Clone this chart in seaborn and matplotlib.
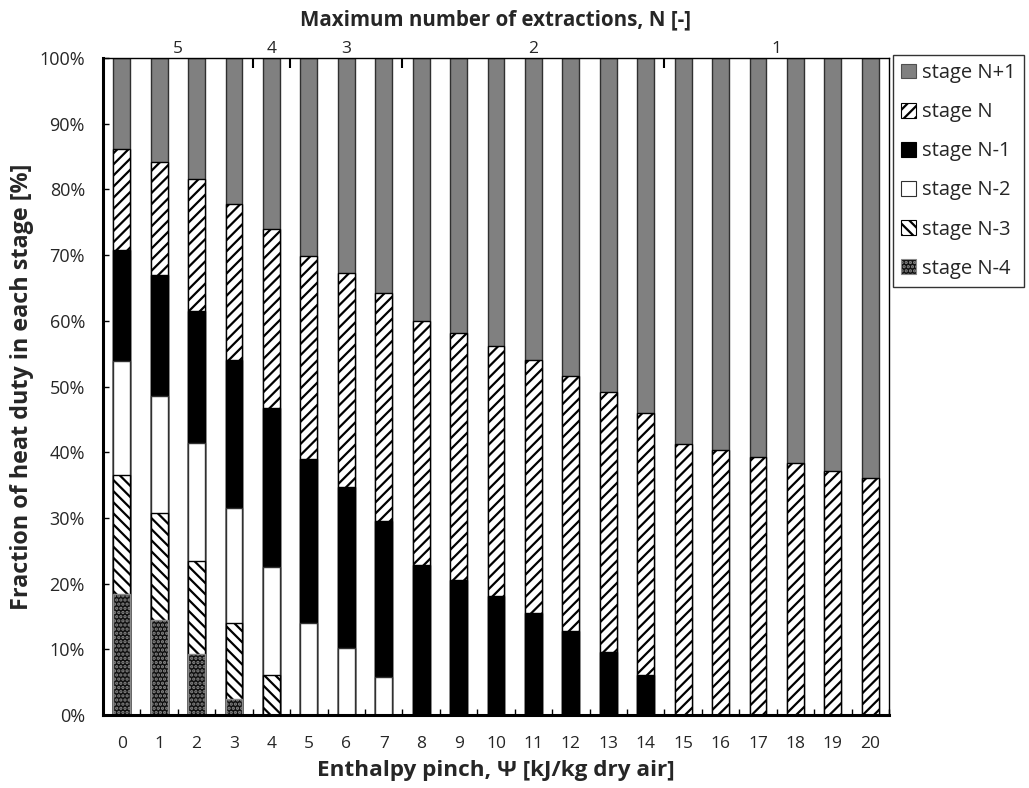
import numpy as np
import pandas as pd
import matplotlib
matplotlib.use("Agg")
import matplotlib.pyplot as plt
from matplotlib.patches import Patch
import seaborn as sns

# data (share of heat duty per stage, %)
psi = list(range(21))
stage_n4 = [18.4, 14.4, 9.3, 2.5] + [0.0] * 17
stage_n3 = [18.1, 16.3, 14.1, 11.5, 6.1] + [0.0] * 16
stage_n2 = [17.4, 17.8, 18.0, 17.5, 16.5, 14.0, 10.2, 5.8] + [0.0] * 13
stage_n1 = [16.9, 18.4, 20.1, 22.6, 24.2, 25.0, 24.5, 23.7, 22.9, 20.6,
            18.1, 15.6, 12.8, 9.6, 6.1] + [0.0] * 6
stage_n = [15.4, 17.3, 20.1, 23.7, 27.2, 30.9, 32.6, 34.7, 37.1, 37.6,
           38.0, 38.4, 38.8, 39.5, 39.9, 41.3, 40.4, 39.3, 38.3, 37.1, 36.0]
stage_np1 = [13.8, 15.8, 18.4, 22.2, 26.0, 30.1, 32.7, 35.8, 40.0, 41.8,
             43.9, 46.0, 48.4, 50.9, 54.0, 58.7, 59.6, 60.7, 61.7, 62.9, 64.0]

# top axis: maximum number of extractions
n_labels = ["5", "4", "3", "2", "1"]
n_label_pos = [1.5, 4.0, 6.0, 11.0, 17.5]
n_bounds = [3.5, 4.5, 7.5, 14.5]

stages = ["stage N-4", "stage N-3", "stage N-2", "stage N-1", "stage N", "stage N+1"]
df = pd.DataFrame({
    "psi": psi,
    "stage N-4": stage_n4,
    "stage N-3": stage_n3,
    "stage N-2": stage_n2,
    "stage N-1": stage_n1,
    "stage N": stage_n,
    "stage N+1": stage_np1,
})
cum = df[stages].cumsum(axis=1)

# face, hatch, edge for each stage
styles = {
    "stage N+1": ("#808080", "", "#303030"),
    "stage N": ("white", "///", "black"),
    "stage N-1": ("black", "", "black"),
    "stage N-2": ("white", "", "#303030"),
    "stage N-3": ("white", "\\\\\\", "black"),
    "stage N-4": ("#101010", "....", "#8a8a8a"),
}

sns.set_style("white")
plt.rcParams["font.family"] = ["Open Sans", "DejaVu Sans"]
plt.rcParams["hatch.linewidth"] = 1.6

fig = plt.figure(figsize=(10.29, 7.88), dpi=100)
ax = fig.add_axes([103 / 1029, 1 - 715 / 788, (889 - 103) / 1029, (715 - 58) / 788])

# draw cumulative bars from the top stage down so each covers the one above it
for st in reversed(stages):
    face, hatch, edge = styles[st]
    sns.barplot(x=df["psi"], y=cum[st], color=face, hatch=hatch, edgecolor=edge,
                linewidth=1.0, width=0.45, saturation=1, errorbar=None, ax=ax)

ax.set_xlim(-0.5, 20.5)
ax.set_ylim(0, 100)
ax.set_yticks(np.arange(0, 101, 10))
ax.set_yticklabels([f"{v}%" for v in range(0, 101, 10)], fontsize=13)
ax.set_xticks(psi)
ax.set_xticklabels([str(p) for p in psi], fontsize=12.5)
ax.set_xticks(np.arange(-0.5, 21, 1), minor=True)
ax.tick_params(axis="x", which="major", length=0, pad=15)
ax.tick_params(axis="x", which="minor", direction="in", length=4, width=1, color="black")
ax.tick_params(axis="y", direction="in", length=4, width=1, color="black", pad=13, left=True)
ax.set_xlabel("Enthalpy pinch, Ψ [kJ/kg dry air]", fontsize=16.2, fontweight="bold", labelpad=6)
ax.set_ylabel("Fraction of heat duty in each stage [%]", fontsize=16.8, fontweight="bold", labelpad=4)

for side in ["left", "bottom"]:
    ax.spines[side].set_linewidth(2.2)
    ax.spines[side].set_color("black")
for side in ["top", "right"]:
    ax.spines[side].set_linewidth(1.0)
    ax.spines[side].set_color("black")

ax2 = ax.twiny()
ax2.set_xlim(ax.get_xlim())
ax2.set_xticks(n_bounds)
ax2.set_xticklabels([])
ax2.set_xticks(n_label_pos, minor=True)
ax2.set_xticklabels(n_labels, minor=True, fontsize=12.5)
ax2.tick_params(axis="x", which="major", direction="in", length=7, width=1.5, color="black")
ax2.tick_params(axis="x", which="minor", length=0, pad=1)
ax2.set_xlabel("Maximum number of extractions, N [-]", fontsize=14.8, fontweight="bold", labelpad=11)
for sp in ax2.spines.values():
    sp.set_visible(False)

handles = []
for st in reversed(stages):
    face, hatch, edge = styles[st]
    handles.append(Patch(facecolor=face, hatch=hatch, edgecolor=edge if st != "stage N+1" else "#505050",
                         linewidth=0.8, label=st))
leg = fig.legend(handles=handles, loc="upper left", bbox_to_anchor=(893 / 1029, 1 - 55 / 788),
                 borderaxespad=0, fontsize=14.5, frameon=True, fancybox=False,
                 edgecolor="black", handlelength=0.75, handleheight=0.75,
                 handletextpad=0.3, labelspacing=0.95, borderpad=0.4)
leg.get_frame().set_linewidth(1.0)

fig.savefig("out.png", dpi=100)
